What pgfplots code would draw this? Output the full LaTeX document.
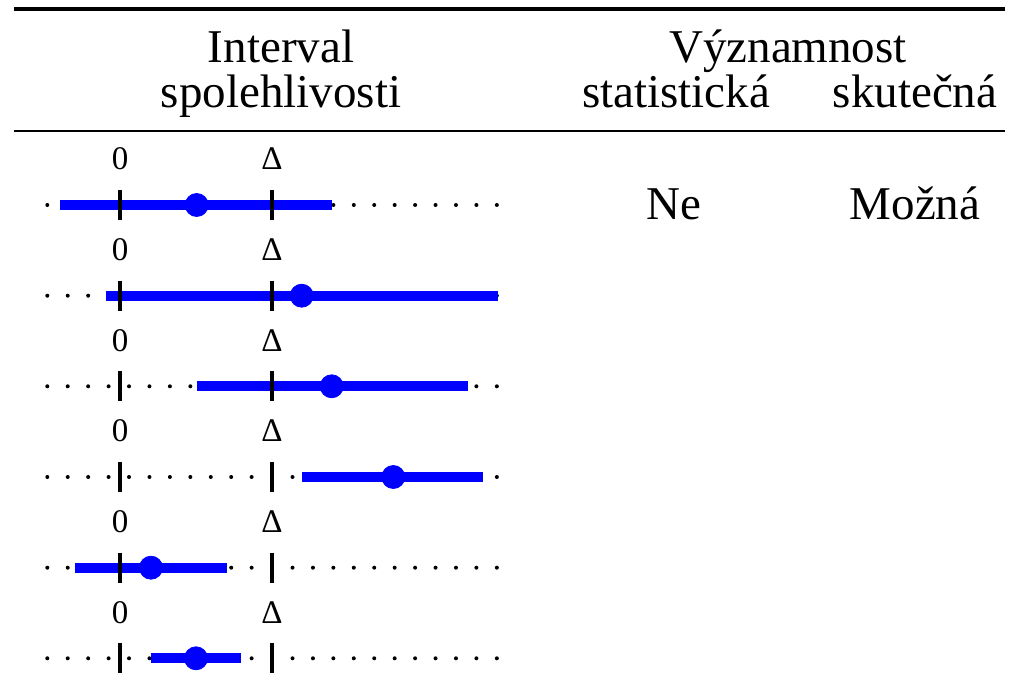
\documentclass[border=0pt]{standalone}
\usepackage{pgfplots}
\pgfplotsset{compat=1.18}
\usepackage{fontspec}
\setmainfont{Liberation Serif}
\definecolor{ciblue}{RGB}{0,0,255}
\newcommand{\hdr}{\fontsize{23.5}{28}\selectfont}
\newcommand{\tl}{\fontsize{16.5}{19}\selectfont}
\begin{document}
\begin{tikzpicture}
\begin{axis}[
  width=505.5pt, height=347pt, scale only axis,
  xmin=0, xmax=1011, ymin=0, ymax=694, y dir=reverse,
  hide axis, clip=false,
]
\path (axis cs:0,0) rectangle (axis cs:1011,694);
% rules
\addplot[black, line width=2pt] coordinates {(14,9) (1005,9)};
\addplot[black, line width=1.4pt] coordinates {(14,131) (1005,131)};
% headers
\node[anchor=base, font=\hdr] at (axis cs:281,63) {Interval};
\node[anchor=base, font=\hdr] at (axis cs:281,108) {spolehlivosti};
\node[anchor=base, font=\hdr] at (axis cs:788,63) {Významnost};
\node[anchor=base, font=\hdr] at (axis cs:676,108) {statistická};
\node[anchor=base, font=\hdr] at (axis cs:915,108) {skutečná};
\node[anchor=base, font=\hdr] at (axis cs:674,220) {Ne};
\node[anchor=base, font=\hdr] at (axis cs:915,220) {Možná};
% rows
\foreach \yy/\lo/\mn/\hi in {205/60/196.7/331.7, 295.7/105.7/301.7/498.3, 386.3/196.7/331.7/468.3, 477/302.3/393.3/483.3, 567.7/75.3/151/226.7, 658.3/151/196/241}{
  \edef\temp{\noexpand\addplot[black, line width=2pt, line cap=round, dash pattern=on 0pt off 10.2167pt] coordinates {(47.3,\yy) (496.9,\yy)};
  \noexpand\addplot[ciblue, line width=5pt] coordinates {(\lo,\yy) (\hi,\yy)};
  \noexpand\addplot[black, line width=2pt] coordinates {(120,\yy-15) (120,\yy+15)};
  \noexpand\addplot[black, line width=2pt] coordinates {(272,\yy-15) (272,\yy+15)};
  \noexpand\addplot[only marks, mark=*, ciblue, mark size=5.75pt] coordinates {(\mn,\yy)};
  \noexpand\node[anchor=base, font=\noexpand\tl] at (axis cs:120,\yy-35) {0};
  \noexpand\node[anchor=base, font=\noexpand\tl] at (axis cs:272,\yy-35) {Δ};}
  \temp
}
\end{axis}
\end{tikzpicture}
\end{document}
